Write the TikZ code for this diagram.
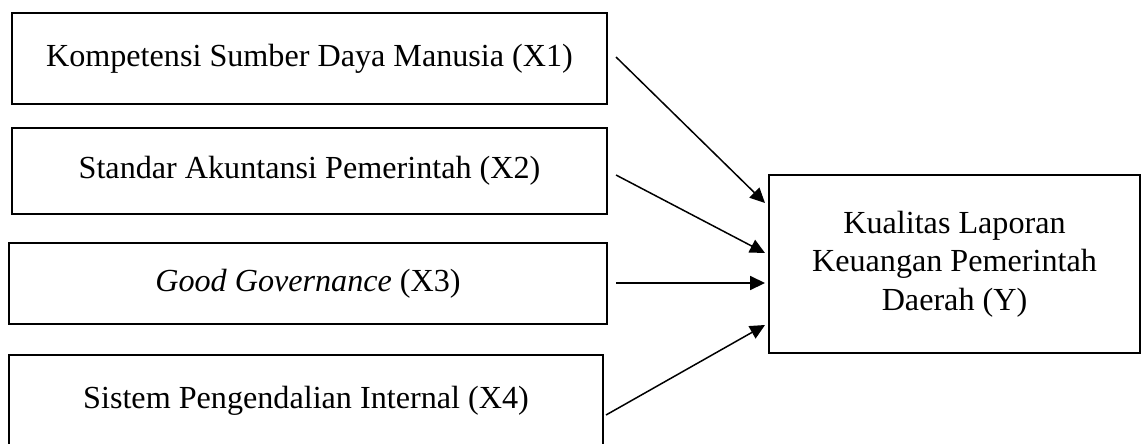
\documentclass[tikz,border=0pt]{standalone}
\usepackage{fontspec}
\setmainfont{Liberation Serif}
\usetikzlibrary{arrows.meta}

\begin{document}
\begin{tikzpicture}[x=0.02cm, y=-0.02cm, font=\fontsize{18.3}{21.9}\selectfont,
                    varbox/.style={draw, line width=1.3pt, inner sep=0pt},
                    arr/.style={-{Triangle[length=8.5pt, width=8pt]}, line width=0.85pt}]
                        \useasboundingbox (0,0) rectangle (1141,443);
                        % independent variables
                        \node[varbox, minimum width=11.9cm, minimum height=1.82cm] (X1) at (309.5,58.5) {Kompetensi Sumber Daya Manusia (X1)};
                        \node[varbox, minimum width=11.9cm, minimum height=1.72cm] (X2) at (309.5,171) {Standar Akuntansi Pemerintah (X2)};
                        \node[varbox, minimum width=11.96cm, minimum height=1.62cm] (X3) at (308,283.5) {\textit{Good Governance} (X3)};
                        \node[varbox, minimum width=11.88cm, minimum height=1.82cm] (X4) at (306,400.5) {Sistem Pengendalian Internal (X4)};
                        % dependent variable
                        \node[varbox, minimum width=7.42cm, minimum height=3.56cm, align=center] (Y) at (954.5,264) {Kualitas Laporan\\Keuangan Pemerintah\\Daerah (Y)};
                        \coordinate (s1) at (616,57); \coordinate (t1) at (765,203);
                        \coordinate (s2) at (616,175); \coordinate (t2) at (765,253);
                        \coordinate (s3) at (616,283); \coordinate (t3) at (765,283);
                        \coordinate (s4) at (606,415); \coordinate (t4) at (765,325);
                        \draw[arr] (s1) -- (t1);
                        \draw[arr] (s2) -- (t2);
                        \draw[arr] (s3) -- (t3);
                        \draw[arr] (s4) -- (t4);
                    \end{tikzpicture}
\end{document}
